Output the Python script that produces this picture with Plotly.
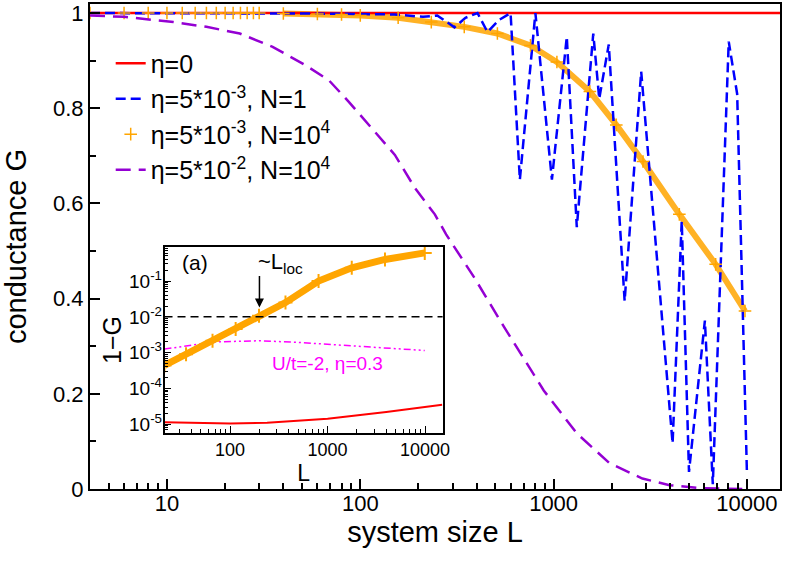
import plotly.graph_objects as go

# Main panel: conductance G vs system size L
L_clean = [4, 10, 100, 1000, 10000, 15000]
G_clean = [1, 1, 1, 1, 1, 1]

L_single = [4, 10, 50, 100, 150, 211, 250, 307, 350, 404, 455, 520, 599, 669, 805, 980,
            1170, 1318, 1604, 1722, 1929, 2330, 2838, 4125, 4600, 5015, 6060, 6660,
            8050, 8900, 10000]
G_single = [1, 1, 0.999, 0.998, 0.997, 0.992, 0.995, 0.97, 0.99, 1.0, 0.96, 0.985, 1.0,
            0.65, 1.0, 0.65, 0.95, 0.55, 0.957, 0.82, 0.934, 0.395, 0.877, 0.096, 0.563,
            0.036, 0.354, 0.01, 0.94, 0.83, 0.033]

L_avg = [4, 6, 8, 10, 12, 14, 16, 18, 20, 22, 24, 26, 28, 30, 40, 60, 80, 100, 157, 233,
         345, 512, 759, 1040, 1540, 2110, 2900, 4470, 6890, 9770]
G_avg = [1, 1, 1, 1, 1, 1, 1, 1, 1, 1, 1, 1, 1, 1, 0.999, 0.998, 0.997, 0.995, 0.99,
         0.981, 0.971, 0.957, 0.932, 0.897, 0.835, 0.765, 0.688, 0.577, 0.472, 0.374]

L_strong = [4, 6, 10.8, 16, 23.8, 35.2, 52.2, 68.7, 87, 115, 151, 192, 243, 278, 389, 555,
            889, 1318, 1950, 2880, 3980, 5890, 10000]
G_strong = [0.995, 0.992, 0.981, 0.971, 0.957, 0.929, 0.89, 0.859, 0.814, 0.758, 0.702,
            0.632, 0.577, 0.535, 0.444, 0.34, 0.207, 0.117, 0.054, 0.022, 0.008, 0.0015, 0.0]

# Inset (a): 1-G vs L on log-log axes
inset_L_avg = [21.2, 35.3, 66, 114, 198, 370, 808, 1770, 3880, 9930]
inset_1mG_avg = [4.4e-4, 9.1e-4, 2.15e-3, 4.6e-3, 0.0107, 0.025, 0.1, 0.234, 0.40, 0.61]

inset_L_U = [21.2, 35.3, 70, 198, 500, 1770, 9930]
inset_1mG_U = [1.26e-3, 1.55e-3, 2.0e-3, 2.15e-3, 1.94e-3, 1.55e-3, 1.15e-3]

inset_L_clean = [21.2, 100, 240, 1000, 4000, 15000]
inset_1mG_clean = [1.15e-5, 1.05e-5, 1.1e-5, 1.44e-5, 2.2e-5, 3.5e-5]

threshold = 1e-2
L_loc = 200

main_ticks = [10, 100, 1000, 10000]
G_ticks = [0, 0.2, 0.4, 0.6, 0.8, 1]
inset_x_ticks = [100, 1000, 10000]
inset_y_ticks = [1e-5, 1e-4, 1e-3, 1e-2, 1e-1]

RED, BLUE, ORANGE, PURPLE, MAGENTA = "#ff0000", "#0000ff", "#ffa500", "#9400d3", "#ff00ff"

fig = go.Figure()

# orange band drawn under the markers where the points are dense
dense_L = [l for l in L_avg if l >= 40]
dense_G = [g for l, g in zip(L_avg, G_avg) if l >= 40]
fig.add_trace(go.Scatter(x=dense_L, y=dense_G, mode="lines", showlegend=False,
                         line=dict(color=ORANGE, width=6), opacity=0.85, hoverinfo="skip"))

fig.add_trace(go.Scatter(x=L_clean, y=G_clean, mode="lines", name="η=0",
                         line=dict(color=RED, width=2.5)))
fig.add_trace(go.Scatter(x=L_single, y=G_single, mode="lines",
                         name="η=5*10<sup>-3</sup>, N=1",
                         line=dict(color=BLUE, width=2.5, dash="10px,5px")))
fig.add_trace(go.Scatter(x=L_avg, y=G_avg, mode="markers",
                         name="η=5*10<sup>-3</sup>, N=10<sup>4</sup>",
                         marker=dict(symbol="cross-thin", size=9, color=ORANGE,
                                     line=dict(color=ORANGE, width=1.5))))
fig.add_trace(go.Scatter(x=L_strong, y=G_strong, mode="lines",
                         name="η=5*10<sup>-2</sup>, N=10<sup>4</sup>",
                         line=dict(color=PURPLE, width=2.5, dash="15px,8px")))

# inset traces
fig.add_trace(go.Scatter(x=inset_L_clean, y=inset_1mG_clean, xaxis="x2", yaxis="y2",
                         mode="lines", showlegend=False, line=dict(color=RED, width=2)))
fig.add_trace(go.Scatter(x=inset_L_U, y=inset_1mG_U, xaxis="x2", yaxis="y2",
                         mode="lines", showlegend=False,
                         line=dict(color=MAGENTA, width=1.5,
                                   dash="7px,3px,2px,3px,2px,3px")))
fig.add_trace(go.Scatter(x=inset_L_avg, y=inset_1mG_avg, xaxis="x2", yaxis="y2",
                         mode="lines+markers", showlegend=False,
                         line=dict(color=ORANGE, width=7),
                         marker=dict(symbol="cross-thin", size=10, color=ORANGE,
                                     line=dict(color=ORANGE, width=2))))

fig.add_shape(type="line", xref="x2 domain", yref="y2", x0=0, x1=1,
              y0=threshold, y1=threshold,
              line=dict(color="black", width=1.5, dash="8px,5px"))

fig.add_annotation(x=2.301, y=-1.74, xref="x2", yref="y2", text="", showarrow=True,
                   arrowhead=2, arrowsize=1.2, arrowwidth=1.5, arrowcolor="black",
                   ax=0, ay=-33)
fig.add_annotation(x=2.52, y=-0.5, xref="x2", yref="y2", showarrow=False,
                   text="~L<sub>loc</sub>", font=dict(size=22))
fig.add_annotation(x=0.055, y=0.99, xref="x2 domain", yref="y2 domain", showarrow=False,
                   xanchor="left", yanchor="top", text="(a)", font=dict(size=21))
fig.add_annotation(x=3.0, y=-3.3, xref="x2", yref="y2", showarrow=False,
                   text="U/t=-2, η=0.3", font=dict(size=19, color=MAGENTA))

axis_common = dict(showline=True, linecolor="black", mirror=True, showgrid=False,
                   zeroline=False, ticks="inside", tickcolor="black")

minor_main = [m * 10 ** d for d in range(0, 5) for m in range(2, 10) if 4 <= m * 10 ** d <= 14000]
minor_inset_x = [m * 10 ** d for d in range(1, 5) for m in range(2, 10) if 21 <= m * 10 ** d <= 15000]
minor_inset_y = [m * 10.0 ** d for d in range(-6, 0) for m in range(2, 10) if 5e-6 <= m * 10.0 ** d <= 0.9]

fig.update_layout(
    width=789, height=561,
    margin=dict(l=90, r=4, t=2, b=72),
    paper_bgcolor="white", plot_bgcolor="white",
    font=dict(family="Liberation Sans, Arial", color="black", size=22),
    showlegend=True,
    legend=dict(x=0.03, y=0.925, xanchor="left", yanchor="top",
                bgcolor="rgba(0,0,0,0)", font=dict(size=25)),
    xaxis=dict(axis_common, type="log", range=[0.602, 4.171], linewidth=2,
               tickvals=main_ticks, ticktext=[str(t) for t in main_ticks],
               ticklen=10, tickwidth=1.5, tickfont=dict(size=22), ticklabelstandoff=-6,
               minor=dict(tickvals=minor_main, ticks="inside", ticklen=6, tickwidth=1.5,
                          tickcolor="black"),
               title=dict(text="system size L", font=dict(size=29), standoff=3)),
    yaxis=dict(axis_common, range=[0, 1.019], linewidth=2,
               tickvals=G_ticks, ticktext=["0", "0.2", "0.4", "0.6", "0.8", "1"],
               ticklen=10, tickwidth=1.5, tickfont=dict(size=22),
               minor=dict(tickvals=[0.1, 0.3, 0.5, 0.7, 0.9], ticks="inside", ticklen=6,
                          tickwidth=1.5, tickcolor="black"),
               title=dict(text="conductance G", font=dict(size=29), standoff=24)),
    xaxis2=dict(axis_common, type="log", range=[1.327, 4.18], linewidth=1.5,
                domain=[0.108, 0.511], anchor="y2",
                tickvals=inset_x_ticks, ticktext=[str(t) for t in inset_x_ticks],
                ticklen=7, tickwidth=1, tickfont=dict(size=18),
                minor=dict(tickvals=minor_inset_x, ticks="inside", ticklen=4, tickwidth=1,
                           tickcolor="black"),
                title=dict(text="L", font=dict(size=23), standoff=0)),
    yaxis2=dict(axis_common, type="log", range=[-5.24, -0.05], linewidth=1.5,
                domain=[0.1156, 0.499], anchor="x2",
                tickvals=inset_y_ticks,
                ticktext=["10<sup>-5</sup>", "10<sup>-4</sup>", "10<sup>-3</sup>",
                          "10<sup>-2</sup>", "10<sup>-1</sup>"],
                ticklen=7, tickwidth=1, tickfont=dict(size=19), ticklabelstandoff=-3,
                minor=dict(tickvals=minor_inset_y, ticks="inside", ticklen=4, tickwidth=1,
                           tickcolor="black"),
                title=dict(text="1−G", font=dict(size=25), standoff=0)),
)

# drop the default page margin so the figure sits at the window corner
fig.write_html("out.html", config={"displayModeBar": False},
               post_script="document.body.style.margin='0';")
